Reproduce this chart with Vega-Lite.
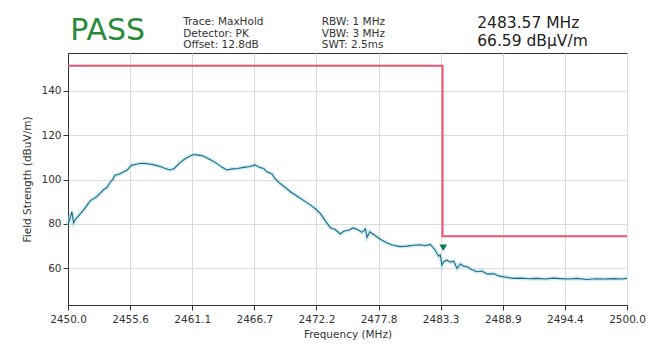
{
  "$schema": "https://vega.github.io/schema/vega-lite/v6.json",
  "width": 559,
  "height": 252,
  "autosize": {"type": "none"},
  "padding": {"left": 68, "top": 53, "right": 33, "bottom": 43},
  "background": "white",
  "config": {
    "font": "DejaVu Sans",
    "view": {"stroke": "#333", "strokeWidth": 1},
    "axis": {
      "labelFont": "DejaVu Sans", "titleFont": "DejaVu Sans",
      "labelFontSize": 10.5, "titleFontSize": 10.5, "titleFontWeight": "normal",
      "labelColor": "#333", "titleColor": "#333",
      "gridColor": "#dadada", "gridWidth": 1,
      "domainColor": "#333", "tickColor": "#333", "tickSize": 5,
      "labelFlush": false
    }
  },
  "datasets": {
    "trace": [
      {"freq": 2450.0, "level": 79.5}, {"freq": 2450.2, "level": 83}, {"freq": 2450.35, "level": 85.5},
      {"freq": 2450.5, "level": 80.5}, {"freq": 2450.65, "level": 82}, {"freq": 2451.0, "level": 84},
      {"freq": 2451.5, "level": 87}, {"freq": 2452.0, "level": 90.5}, {"freq": 2452.5, "level": 92},
      {"freq": 2453.0, "level": 94.5}, {"freq": 2453.2, "level": 95.5}, {"freq": 2453.5, "level": 96.5},
      {"freq": 2453.8, "level": 99}, {"freq": 2454.0, "level": 100}, {"freq": 2454.2, "level": 102},
      {"freq": 2454.6, "level": 102.5}, {"freq": 2455.0, "level": 103.5}, {"freq": 2455.3, "level": 104.3},
      {"freq": 2455.5, "level": 105.5}, {"freq": 2455.7, "level": 106.5}, {"freq": 2456.0, "level": 106.8},
      {"freq": 2456.4, "level": 107.2}, {"freq": 2456.8, "level": 107.3}, {"freq": 2457.3, "level": 107},
      {"freq": 2457.8, "level": 106.5}, {"freq": 2458.3, "level": 105.8}, {"freq": 2458.7, "level": 105},
      {"freq": 2459.15, "level": 104.3}, {"freq": 2459.5, "level": 105}, {"freq": 2460.0, "level": 107.5},
      {"freq": 2460.5, "level": 109.5}, {"freq": 2461.2, "level": 111.3}, {"freq": 2461.7, "level": 111},
      {"freq": 2462.1, "level": 110.6}, {"freq": 2462.7, "level": 109}, {"freq": 2463.3, "level": 107.3},
      {"freq": 2463.8, "level": 105.5}, {"freq": 2464.2, "level": 104.3}, {"freq": 2464.7, "level": 104.8},
      {"freq": 2465.2, "level": 105}, {"freq": 2465.7, "level": 105.5}, {"freq": 2466.2, "level": 105.8},
      {"freq": 2466.75, "level": 106.6}, {"freq": 2467.1, "level": 105.5}, {"freq": 2467.5, "level": 105},
      {"freq": 2467.8, "level": 103.5}, {"freq": 2468.25, "level": 102.5}, {"freq": 2468.5, "level": 100.5},
      {"freq": 2468.9, "level": 98.5}, {"freq": 2469.3, "level": 97}, {"freq": 2469.9, "level": 94.5},
      {"freq": 2470.5, "level": 92.5}, {"freq": 2471.1, "level": 90.5}, {"freq": 2471.7, "level": 88.5},
      {"freq": 2472.2, "level": 86.5}, {"freq": 2472.6, "level": 84.5}, {"freq": 2473.0, "level": 81.5},
      {"freq": 2473.3, "level": 79.5}, {"freq": 2473.5, "level": 78.2}, {"freq": 2473.9, "level": 77.5},
      {"freq": 2474.35, "level": 75.5}, {"freq": 2474.7, "level": 76.8}, {"freq": 2475.1, "level": 77.2},
      {"freq": 2475.5, "level": 78.2}, {"freq": 2475.9, "level": 77.5}, {"freq": 2476.3, "level": 76.2},
      {"freq": 2476.6, "level": 77.8}, {"freq": 2476.75, "level": 74}, {"freq": 2477.0, "level": 76.5},
      {"freq": 2477.4, "level": 75}, {"freq": 2477.9, "level": 73.2}, {"freq": 2478.5, "level": 71.5},
      {"freq": 2479.0, "level": 70.5}, {"freq": 2479.7, "level": 69.8}, {"freq": 2480.3, "level": 70},
      {"freq": 2480.9, "level": 70.4}, {"freq": 2481.5, "level": 70.6}, {"freq": 2481.9, "level": 70.2},
      {"freq": 2482.4, "level": 70.8}, {"freq": 2482.8, "level": 68.5}, {"freq": 2483.15, "level": 65.5},
      {"freq": 2483.3, "level": 66}, {"freq": 2483.45, "level": 61.5}, {"freq": 2483.6, "level": 63},
      {"freq": 2483.9, "level": 63.7}, {"freq": 2484.2, "level": 62.8}, {"freq": 2484.5, "level": 63.2},
      {"freq": 2484.8, "level": 60}, {"freq": 2485.1, "level": 62}, {"freq": 2485.4, "level": 61},
      {"freq": 2485.7, "level": 60.7}, {"freq": 2486.1, "level": 59.5}, {"freq": 2486.6, "level": 58.5},
      {"freq": 2487.0, "level": 58.8}, {"freq": 2487.5, "level": 57.5}, {"freq": 2488.1, "level": 57.6},
      {"freq": 2488.6, "level": 56.5}, {"freq": 2489.2, "level": 56}, {"freq": 2489.85, "level": 55.5},
      {"freq": 2490.5, "level": 55.6}, {"freq": 2491.2, "level": 55.3}, {"freq": 2491.95, "level": 55.5},
      {"freq": 2492.7, "level": 55.2}, {"freq": 2493.4, "level": 55.6}, {"freq": 2494.0, "level": 55.4},
      {"freq": 2494.8, "level": 55.2}, {"freq": 2495.5, "level": 55.5}, {"freq": 2496.4, "level": 55},
      {"freq": 2497.2, "level": 55.3}, {"freq": 2498.0, "level": 55.2}, {"freq": 2498.8, "level": 55.4},
      {"freq": 2499.5, "level": 55.2}, {"freq": 2500.0, "level": 55.5}
    ],
    "limit": [
      {"freq": 2450.0, "level": 151.3, "seg": 1},
      {"freq": 2483.5, "level": 151.3, "seg": 2},
      {"freq": 2483.5, "level": 74.5, "seg": 3},
      {"freq": 2500.0, "level": 74.5, "seg": 4}
    ],
    "marker": [{"freq": 2483.57, "level": 66.59}]
  },
  "layer": [
    {
      "data": {"name": "trace"},
      "mark": {"type": "line", "color": "#b3e0f2", "strokeWidth": 4, "opacity": 0.6},
      "encoding": {
        "x": {"field": "freq", "type": "quantitative", "scale": {"domain": [2450, 2500], "nice": false, "zero": false},
          "axis": {"values": [2450, 2455.5556, 2461.1111, 2466.6667, 2472.2222, 2477.7778, 2483.3333, 2488.8889, 2494.4444, 2500],
            "format": ".1f", "title": "Frequency (MHz)", "labelPadding": 4, "titlePadding": 5}},
        "y": {"field": "level", "type": "quantitative", "scale": {"domain": [43.5, 157], "nice": false, "zero": false},
          "axis": {"values": [60, 80, 100, 120, 140], "title": "Field Strength (dBuV/m)", "titlePadding": 8}}
      }
    },
    {
      "data": {"name": "trace"},
      "mark": {"type": "line", "color": "#1f6b78", "strokeWidth": 1.1},
      "encoding": {
        "x": {"field": "freq", "type": "quantitative"},
        "y": {"field": "level", "type": "quantitative"}
      }
    },
    {
      "data": {"name": "limit"},
      "mark": {"type": "line", "color": "#f0506f", "strokeWidth": 2},
      "encoding": {
        "x": {"field": "freq", "type": "quantitative"},
        "y": {"field": "level", "type": "quantitative"},
        "order": {"field": "seg"}
      }
    },
    {
      "data": {"name": "marker"},
      "mark": {"type": "point", "shape": "triangle-down", "filled": true, "color": "#0f7a5a", "size": 60, "opacity": 1, "yOffset": -6},
      "encoding": {
        "x": {"field": "freq", "type": "quantitative"},
        "y": {"field": "level", "type": "quantitative"}
      }
    },
    {
      "data": {"values": [{"t": "PASS"}]},
      "mark": {"type": "text", "align": "left", "baseline": "alphabetic", "fontSize": 30, "color": "#2a8a3c", "font": "DejaVu Sans"},
      "encoding": {"x": {"datum": 2450.2}, "y": {"datum": 162.8}, "text": {"field": "t"}}
    },
    {
      "data": {"values": [{"a": 1}]},
      "mark": {"type": "text", "align": "left", "baseline": "alphabetic", "fontSize": 10.5, "color": "#333", "lineHeight": 11.5, "font": "DejaVu Sans"},
      "encoding": {"x": {"datum": 2460.3}, "y": {"datum": 169.6}, "text": {"value": ["Trace: MaxHold", "Detector: PK", "Offset: 12.8dB"]}}
    },
    {
      "data": {"values": [{"a": 1}]},
      "mark": {"type": "text", "align": "left", "baseline": "alphabetic", "fontSize": 10.5, "color": "#333", "lineHeight": 11.5, "font": "DejaVu Sans"},
      "encoding": {"x": {"datum": 2472.7}, "y": {"datum": 169.6}, "text": {"value": ["RBW: 1 MHz", "VBW: 3 MHz", "SWT: 2.5ms"]}}
    },
    {
      "data": {"values": [{"a": 1}]},
      "mark": {"type": "text", "align": "left", "baseline": "alphabetic", "fontSize": 15.5, "color": "#222", "lineHeight": 18, "font": "DejaVu Sans"},
      "encoding": {"x": {"datum": 2486.6}, "y": {"datum": 168.2}, "text": {"value": ["2483.57 MHz", "66.59 dBµV/m"]}}
    }
  ]
}
